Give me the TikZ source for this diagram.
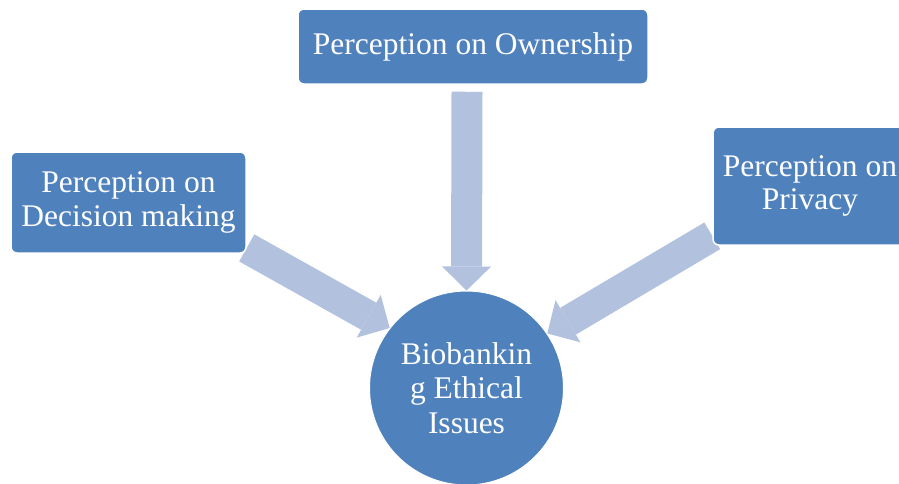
\documentclass[tikz,border=0pt]{standalone}
\usepackage{fontspec}
\setmainfont{Liberation Serif}
\usepackage{tikz}
\usetikzlibrary{arrows.meta, backgrounds}

\definecolor{boxblue}{HTML}{4F81BD}
\definecolor{arrowblue}{HTML}{B1C1DE}

\begin{document}
\begin{tikzpicture}[
    x=1pt, y=-1pt,
    box/.style={rectangle, fill=boxblue, draw=white, line width=1.5pt, rounded corners=6pt,
                text=white, align=center, inner sep=0pt,
                font=\fontsize{31.5}{33.5}\selectfont},
    hub/.style={circle, fill=boxblue, draw=white, line width=1pt, minimum size=194pt,
                text=white, align=center, inner sep=0pt,
                font=\fontsize{31.5}{34.5}\selectfont},
    arrow/.style={draw=arrowblue, line width=31pt,
                  -{Triangle[length=24pt, width=49pt, line width=0pt]}}
]
\useasboundingbox (0,0) rectangle (899,483);

\node[box, minimum width=350pt, minimum height=75pt] (own) at (473,46.5) {Perception on Ownership};
\node[box, minimum width=235pt, minimum height=101pt] (dec) at (128.5,202.5) {Perception on\\Decision making};
\node[box, minimum width=194pt, minimum height=118pt] (priv) at (810,186) {Perception on\\Privacy};
\node[hub] (bio) at (466.5,388) {Biobankin\\g Ethical\\Issues};

% block arrows sit behind the boxes
\begin{scope}[on background layer]
\draw[arrow] ([xshift=-6pt, yshift=-7pt]own.south) -- (bio.north);
\draw[arrow] (dec.-21) -- (bio.142);
\draw[arrow] (priv.207) -- (bio.34);
\end{scope}

\end{tikzpicture}
\end{document}
